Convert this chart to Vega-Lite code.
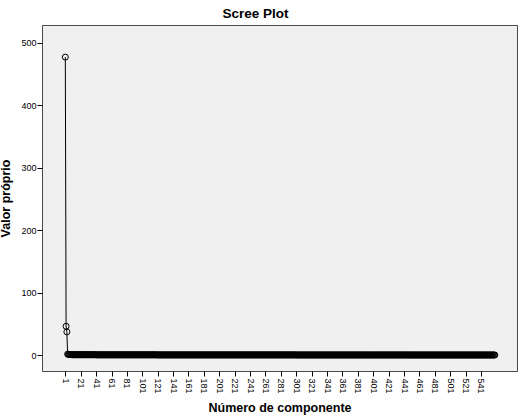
{
  "$schema": "https://vega.github.io/schema/vega-lite/v6.json",
  "width": 475,
  "height": 346,
  "autosize": {"type": "none"},
  "padding": {"left": 42, "top": 25, "right": 8, "bottom": 47},
  "background": "white",
  "config": {
    "font": "Liberation Sans",
    "view": {"fill": "#f0f0f0", "stroke": "#4a4a4a", "strokeWidth": 1}
  },
  "title": {"text": "Scree Plot", "fontSize": 13.5, "fontWeight": "bold", "color": "black", "offset": 5, "dx": -24},
  "data": {"values": [
    {"c":1,"v":477},{"c":2,"v":46},{"c":3,"v":37},{"c":4,"v":1.4},{"c":5,"v":1.1},{"c":6,"v":0.9},{"c":7,"v":0.8},{"c":8,"v":0.7},{"c":9,"v":0.6},{"c":10,"v":0.55},
    {"c":11,"v":0.4},{"c":12,"v":0.4},{"c":13,"v":0.4},{"c":14,"v":0.4},{"c":15,"v":0.4},{"c":16,"v":0.4},{"c":17,"v":0.4},{"c":18,"v":0.4},{"c":19,"v":0.4},{"c":20,"v":0.4},
    {"c":21,"v":0.4},{"c":22,"v":0.4},{"c":23,"v":0.4},{"c":24,"v":0.4},{"c":25,"v":0.4},{"c":26,"v":0.4},{"c":27,"v":0.4},{"c":28,"v":0.4},{"c":29,"v":0.4},{"c":30,"v":0.4},
    {"c":31,"v":0.4},{"c":32,"v":0.4},{"c":33,"v":0.4},{"c":34,"v":0.4},{"c":35,"v":0.4},{"c":36,"v":0.4},{"c":37,"v":0.4},{"c":38,"v":0.4},{"c":39,"v":0.4},{"c":40,"v":0.4},
    {"c":41,"v":0.25},{"c":42,"v":0.25},{"c":43,"v":0.25},{"c":44,"v":0.25},{"c":45,"v":0.25},{"c":46,"v":0.25},{"c":47,"v":0.25},{"c":48,"v":0.25},{"c":49,"v":0.25},{"c":50,"v":0.25},
    {"c":51,"v":0.25},{"c":52,"v":0.25},{"c":53,"v":0.25},{"c":54,"v":0.25},{"c":55,"v":0.25},{"c":56,"v":0.25},{"c":57,"v":0.25},{"c":58,"v":0.25},{"c":59,"v":0.25},{"c":60,"v":0.25},
    {"c":61,"v":0.25},{"c":62,"v":0.25},{"c":63,"v":0.25},{"c":64,"v":0.25},{"c":65,"v":0.25},{"c":66,"v":0.25},{"c":67,"v":0.25},{"c":68,"v":0.25},{"c":69,"v":0.25},{"c":70,"v":0.25},
    {"c":71,"v":0.25},{"c":72,"v":0.25},{"c":73,"v":0.25},{"c":74,"v":0.25},{"c":75,"v":0.25},{"c":76,"v":0.25},{"c":77,"v":0.25},{"c":78,"v":0.25},{"c":79,"v":0.25},{"c":80,"v":0.25},
    {"c":81,"v":0.25},{"c":82,"v":0.25},{"c":83,"v":0.25},{"c":84,"v":0.25},{"c":85,"v":0.25},{"c":86,"v":0.25},{"c":87,"v":0.25},{"c":88,"v":0.25},{"c":89,"v":0.25},{"c":90,"v":0.25},
    {"c":91,"v":0.25},{"c":92,"v":0.25},{"c":93,"v":0.25},{"c":94,"v":0.25},{"c":95,"v":0.25},{"c":96,"v":0.25},{"c":97,"v":0.25},{"c":98,"v":0.25},{"c":99,"v":0.25},{"c":100,"v":0.25},
    {"c":101,"v":0.25},{"c":102,"v":0.25},{"c":103,"v":0.25},{"c":104,"v":0.25},{"c":105,"v":0.25},{"c":106,"v":0.25},{"c":107,"v":0.25},{"c":108,"v":0.25},{"c":109,"v":0.25},{"c":110,"v":0.25},
    {"c":111,"v":0.25},{"c":112,"v":0.25},{"c":113,"v":0.25},{"c":114,"v":0.25},{"c":115,"v":0.25},{"c":116,"v":0.25},{"c":117,"v":0.25},{"c":118,"v":0.25},{"c":119,"v":0.25},{"c":120,"v":0.25},
    {"c":121,"v":0.12},{"c":122,"v":0.12},{"c":123,"v":0.12},{"c":124,"v":0.12},{"c":125,"v":0.12},{"c":126,"v":0.12},{"c":127,"v":0.12},{"c":128,"v":0.12},{"c":129,"v":0.12},{"c":130,"v":0.12},
    {"c":131,"v":0.12},{"c":132,"v":0.12},{"c":133,"v":0.12},{"c":134,"v":0.12},{"c":135,"v":0.12},{"c":136,"v":0.12},{"c":137,"v":0.12},{"c":138,"v":0.12},{"c":139,"v":0.12},{"c":140,"v":0.12},
    {"c":141,"v":0.12},{"c":142,"v":0.12},{"c":143,"v":0.12},{"c":144,"v":0.12},{"c":145,"v":0.12},{"c":146,"v":0.12},{"c":147,"v":0.12},{"c":148,"v":0.12},{"c":149,"v":0.12},{"c":150,"v":0.12},
    {"c":151,"v":0.12},{"c":152,"v":0.12},{"c":153,"v":0.12},{"c":154,"v":0.12},{"c":155,"v":0.12},{"c":156,"v":0.12},{"c":157,"v":0.12},{"c":158,"v":0.12},{"c":159,"v":0.12},{"c":160,"v":0.12},
    {"c":161,"v":0.12},{"c":162,"v":0.12},{"c":163,"v":0.12},{"c":164,"v":0.12},{"c":165,"v":0.12},{"c":166,"v":0.12},{"c":167,"v":0.12},{"c":168,"v":0.12},{"c":169,"v":0.12},{"c":170,"v":0.12},
    {"c":171,"v":0.12},{"c":172,"v":0.12},{"c":173,"v":0.12},{"c":174,"v":0.12},{"c":175,"v":0.12},{"c":176,"v":0.12},{"c":177,"v":0.12},{"c":178,"v":0.12},{"c":179,"v":0.12},{"c":180,"v":0.12},
    {"c":181,"v":0.12},{"c":182,"v":0.12},{"c":183,"v":0.12},{"c":184,"v":0.12},{"c":185,"v":0.12},{"c":186,"v":0.12},{"c":187,"v":0.12},{"c":188,"v":0.12},{"c":189,"v":0.12},{"c":190,"v":0.12},
    {"c":191,"v":0.12},{"c":192,"v":0.12},{"c":193,"v":0.12},{"c":194,"v":0.12},{"c":195,"v":0.12},{"c":196,"v":0.12},{"c":197,"v":0.12},{"c":198,"v":0.12},{"c":199,"v":0.12},{"c":200,"v":0.12},
    {"c":201,"v":0.12},{"c":202,"v":0.12},{"c":203,"v":0.12},{"c":204,"v":0.12},{"c":205,"v":0.12},{"c":206,"v":0.12},{"c":207,"v":0.12},{"c":208,"v":0.12},{"c":209,"v":0.12},{"c":210,"v":0.12},
    {"c":211,"v":0.12},{"c":212,"v":0.12},{"c":213,"v":0.12},{"c":214,"v":0.12},{"c":215,"v":0.12},{"c":216,"v":0.12},{"c":217,"v":0.12},{"c":218,"v":0.12},{"c":219,"v":0.12},{"c":220,"v":0.12},
    {"c":221,"v":0.12},{"c":222,"v":0.12},{"c":223,"v":0.12},{"c":224,"v":0.12},{"c":225,"v":0.12},{"c":226,"v":0.12},{"c":227,"v":0.12},{"c":228,"v":0.12},{"c":229,"v":0.12},{"c":230,"v":0.12},
    {"c":231,"v":0.12},{"c":232,"v":0.12},{"c":233,"v":0.12},{"c":234,"v":0.12},{"c":235,"v":0.12},{"c":236,"v":0.12},{"c":237,"v":0.12},{"c":238,"v":0.12},{"c":239,"v":0.12},{"c":240,"v":0.12},
    {"c":241,"v":0.12},{"c":242,"v":0.12},{"c":243,"v":0.12},{"c":244,"v":0.12},{"c":245,"v":0.12},{"c":246,"v":0.12},{"c":247,"v":0.12},{"c":248,"v":0.12},{"c":249,"v":0.12},{"c":250,"v":0.12},
    {"c":251,"v":0.12},{"c":252,"v":0.12},{"c":253,"v":0.12},{"c":254,"v":0.12},{"c":255,"v":0.12},{"c":256,"v":0.12},{"c":257,"v":0.12},{"c":258,"v":0.12},{"c":259,"v":0.12},{"c":260,"v":0.12},
    {"c":261,"v":0.12},{"c":262,"v":0.12},{"c":263,"v":0.12},{"c":264,"v":0.12},{"c":265,"v":0.12},{"c":266,"v":0.12},{"c":267,"v":0.12},{"c":268,"v":0.12},{"c":269,"v":0.12},{"c":270,"v":0.12},
    {"c":271,"v":0.12},{"c":272,"v":0.12},{"c":273,"v":0.12},{"c":274,"v":0.12},{"c":275,"v":0.12},{"c":276,"v":0.12},{"c":277,"v":0.12},{"c":278,"v":0.12},{"c":279,"v":0.12},{"c":280,"v":0.12},
    {"c":281,"v":0.12},{"c":282,"v":0.12},{"c":283,"v":0.12},{"c":284,"v":0.12},{"c":285,"v":0.12},{"c":286,"v":0.12},{"c":287,"v":0.12},{"c":288,"v":0.12},{"c":289,"v":0.12},{"c":290,"v":0.12},
    {"c":291,"v":0.12},{"c":292,"v":0.12},{"c":293,"v":0.12},{"c":294,"v":0.12},{"c":295,"v":0.12},{"c":296,"v":0.12},{"c":297,"v":0.12},{"c":298,"v":0.12},{"c":299,"v":0.12},{"c":300,"v":0.12},
    {"c":301,"v":0.06},{"c":302,"v":0.06},{"c":303,"v":0.06},{"c":304,"v":0.06},{"c":305,"v":0.06},{"c":306,"v":0.06},{"c":307,"v":0.06},{"c":308,"v":0.06},{"c":309,"v":0.06},{"c":310,"v":0.06},
    {"c":311,"v":0.06},{"c":312,"v":0.06},{"c":313,"v":0.06},{"c":314,"v":0.06},{"c":315,"v":0.06},{"c":316,"v":0.06},{"c":317,"v":0.06},{"c":318,"v":0.06},{"c":319,"v":0.06},{"c":320,"v":0.06},
    {"c":321,"v":0.06},{"c":322,"v":0.06},{"c":323,"v":0.06},{"c":324,"v":0.06},{"c":325,"v":0.06},{"c":326,"v":0.06},{"c":327,"v":0.06},{"c":328,"v":0.06},{"c":329,"v":0.06},{"c":330,"v":0.06},
    {"c":331,"v":0.06},{"c":332,"v":0.06},{"c":333,"v":0.06},{"c":334,"v":0.06},{"c":335,"v":0.06},{"c":336,"v":0.06},{"c":337,"v":0.06},{"c":338,"v":0.06},{"c":339,"v":0.06},{"c":340,"v":0.06},
    {"c":341,"v":0.06},{"c":342,"v":0.06},{"c":343,"v":0.06},{"c":344,"v":0.06},{"c":345,"v":0.06},{"c":346,"v":0.06},{"c":347,"v":0.06},{"c":348,"v":0.06},{"c":349,"v":0.06},{"c":350,"v":0.06},
    {"c":351,"v":0.06},{"c":352,"v":0.06},{"c":353,"v":0.06},{"c":354,"v":0.06},{"c":355,"v":0.06},{"c":356,"v":0.06},{"c":357,"v":0.06},{"c":358,"v":0.06},{"c":359,"v":0.06},{"c":360,"v":0.06},
    {"c":361,"v":0.06},{"c":362,"v":0.06},{"c":363,"v":0.06},{"c":364,"v":0.06},{"c":365,"v":0.06},{"c":366,"v":0.06},{"c":367,"v":0.06},{"c":368,"v":0.06},{"c":369,"v":0.06},{"c":370,"v":0.06},
    {"c":371,"v":0.06},{"c":372,"v":0.06},{"c":373,"v":0.06},{"c":374,"v":0.06},{"c":375,"v":0.06},{"c":376,"v":0.06},{"c":377,"v":0.06},{"c":378,"v":0.06},{"c":379,"v":0.06},{"c":380,"v":0.06},
    {"c":381,"v":0.06},{"c":382,"v":0.06},{"c":383,"v":0.06},{"c":384,"v":0.06},{"c":385,"v":0.06},{"c":386,"v":0.06},{"c":387,"v":0.06},{"c":388,"v":0.06},{"c":389,"v":0.06},{"c":390,"v":0.06},
    {"c":391,"v":0.06},{"c":392,"v":0.06},{"c":393,"v":0.06},{"c":394,"v":0.06},{"c":395,"v":0.06},{"c":396,"v":0.06},{"c":397,"v":0.06},{"c":398,"v":0.06},{"c":399,"v":0.06},{"c":400,"v":0.06},
    {"c":401,"v":0.06},{"c":402,"v":0.06},{"c":403,"v":0.06},{"c":404,"v":0.06},{"c":405,"v":0.06},{"c":406,"v":0.06},{"c":407,"v":0.06},{"c":408,"v":0.06},{"c":409,"v":0.06},{"c":410,"v":0.06},
    {"c":411,"v":0.06},{"c":412,"v":0.06},{"c":413,"v":0.06},{"c":414,"v":0.06},{"c":415,"v":0.06},{"c":416,"v":0.06},{"c":417,"v":0.06},{"c":418,"v":0.06},{"c":419,"v":0.06},{"c":420,"v":0.06},
    {"c":421,"v":0.06},{"c":422,"v":0.06},{"c":423,"v":0.06},{"c":424,"v":0.06},{"c":425,"v":0.06},{"c":426,"v":0.06},{"c":427,"v":0.06},{"c":428,"v":0.06},{"c":429,"v":0.06},{"c":430,"v":0.06},
    {"c":431,"v":0.06},{"c":432,"v":0.06},{"c":433,"v":0.06},{"c":434,"v":0.06},{"c":435,"v":0.06},{"c":436,"v":0.06},{"c":437,"v":0.06},{"c":438,"v":0.06},{"c":439,"v":0.06},{"c":440,"v":0.06},
    {"c":441,"v":0.06},{"c":442,"v":0.06},{"c":443,"v":0.06},{"c":444,"v":0.06},{"c":445,"v":0.06},{"c":446,"v":0.06},{"c":447,"v":0.06},{"c":448,"v":0.06},{"c":449,"v":0.06},{"c":450,"v":0.06},
    {"c":451,"v":0.02},{"c":452,"v":0.02},{"c":453,"v":0.02},{"c":454,"v":0.02},{"c":455,"v":0.02},{"c":456,"v":0.02},{"c":457,"v":0.02},{"c":458,"v":0.02},{"c":459,"v":0.02},{"c":460,"v":0.02},
    {"c":461,"v":0.02},{"c":462,"v":0.02},{"c":463,"v":0.02},{"c":464,"v":0.02},{"c":465,"v":0.02},{"c":466,"v":0.02},{"c":467,"v":0.02},{"c":468,"v":0.02},{"c":469,"v":0.02},{"c":470,"v":0.02},
    {"c":471,"v":0.02},{"c":472,"v":0.02},{"c":473,"v":0.02},{"c":474,"v":0.02},{"c":475,"v":0.02},{"c":476,"v":0.02},{"c":477,"v":0.02},{"c":478,"v":0.02},{"c":479,"v":0.02},{"c":480,"v":0.02},
    {"c":481,"v":0.02},{"c":482,"v":0.02},{"c":483,"v":0.02},{"c":484,"v":0.02},{"c":485,"v":0.02},{"c":486,"v":0.02},{"c":487,"v":0.02},{"c":488,"v":0.02},{"c":489,"v":0.02},{"c":490,"v":0.02},
    {"c":491,"v":0.02},{"c":492,"v":0.02},{"c":493,"v":0.02},{"c":494,"v":0.02},{"c":495,"v":0.02},{"c":496,"v":0.02},{"c":497,"v":0.02},{"c":498,"v":0.02},{"c":499,"v":0.02},{"c":500,"v":0.02},
    {"c":501,"v":0.02},{"c":502,"v":0.02},{"c":503,"v":0.02},{"c":504,"v":0.02},{"c":505,"v":0.02},{"c":506,"v":0.02},{"c":507,"v":0.02},{"c":508,"v":0.02},{"c":509,"v":0.02},{"c":510,"v":0.02},
    {"c":511,"v":0.02},{"c":512,"v":0.02},{"c":513,"v":0.02},{"c":514,"v":0.02},{"c":515,"v":0.02},{"c":516,"v":0.02},{"c":517,"v":0.02},{"c":518,"v":0.02},{"c":519,"v":0.02},{"c":520,"v":0.02},
    {"c":521,"v":0.02},{"c":522,"v":0.02},{"c":523,"v":0.02},{"c":524,"v":0.02},{"c":525,"v":0.02},{"c":526,"v":0.02},{"c":527,"v":0.02},{"c":528,"v":0.02},{"c":529,"v":0.02},{"c":530,"v":0.02},
    {"c":531,"v":0.02},{"c":532,"v":0.02},{"c":533,"v":0.02},{"c":534,"v":0.02},{"c":535,"v":0.02},{"c":536,"v":0.02},{"c":537,"v":0.02},{"c":538,"v":0.02},{"c":539,"v":0.02},{"c":540,"v":0.02},
    {"c":541,"v":0.02},{"c":542,"v":0.02},{"c":543,"v":0.02},{"c":544,"v":0.02},{"c":545,"v":0.02},{"c":546,"v":0.02},{"c":547,"v":0.02},{"c":548,"v":0.02},{"c":549,"v":0.02},{"c":550,"v":0.02},
    {"c":551,"v":0.02},{"c":552,"v":0.02},{"c":553,"v":0.02},{"c":554,"v":0.02},{"c":555,"v":0.02},{"c":556,"v":0.02},{"c":557,"v":0.02},{"c":558,"v":0.02},{"c":559,"v":0.02}
  ]},
  "encoding": {
    "x": {
      "field": "c", "type": "quantitative",
      "scale": {"domain": [-29.3, 587.8], "nice": false, "zero": false},
      "axis": {
        "title": "Número de componente", "titleFontSize": 12.5, "titleFontWeight": "bold", "titleColor": "black", "titlePadding": 8,
        "values": [1,21,41,61,81,101,121,141,161,181,201,221,241,261,281,301,321,341,361,381,401,421,441,461,481,501,521,541],
        "labelAngle": 90, "labelFontSize": 9, "labelColor": "black", "labelPadding": 2, "labelOverlap": false, "labelFlush": false,
        "tickSize": 5, "tickColor": "black", "grid": false, "domain": false
      }
    },
    "y": {
      "field": "v", "type": "quantitative",
      "scale": {"domain": [-25.6, 528.4], "nice": false, "zero": false},
      "axis": {
        "title": "Valor próprio", "titleFontSize": 12.5, "titleFontWeight": "bold", "titleColor": "black", "titlePadding": 8,
        "values": [0, 100, 200, 300, 400, 500],
        "labelFontSize": 9, "labelColor": "black", "labelPadding": 1, "labelFlush": false,
        "tickSize": 5, "tickColor": "black", "grid": false, "domain": false
      }
    }
  },
  "layer": [
    {"mark": {"type": "line", "color": "black", "strokeWidth": 1}},
    {"mark": {"type": "point", "shape": "circle", "filled": false, "color": "black", "strokeWidth": 1, "size": 36, "opacity": 1}}
  ]
}
